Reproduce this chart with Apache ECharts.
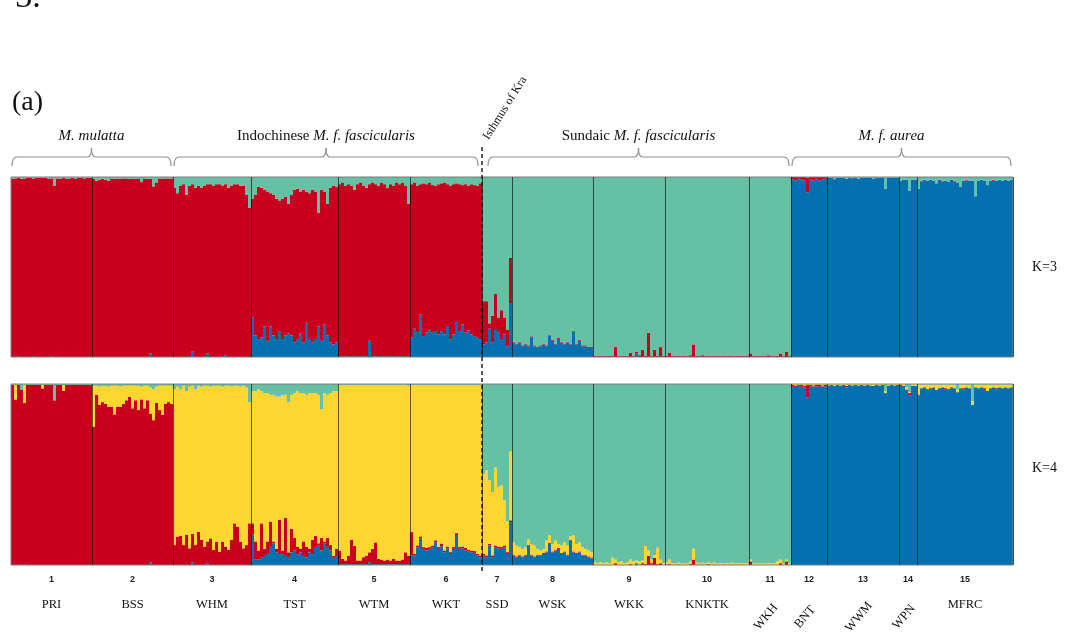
<!DOCTYPE html>
<html>
<head>
<meta charset="utf-8">
<script src="https://cdn.jsdelivr.net/npm/echarts@6.0.0/dist/echarts.min.js"></script>
<style>
  html, body { margin: 0; padding: 0; background: #fff; }
  #main { width: 1068px; height: 634px; }
</style>
</head>
<body>
<div id="main"></div>
<script>
// populations, left to right
const popIds = ['1', '2', '3', '4', '5', '6', '7', '8', '9', '10', '11', '12', '13', '14', '15']
const popNames = ['PRI', 'BSS', 'WHM', 'TST', 'WTM', 'WKT', 'SSD', 'WSK', 'WKK', 'KNKTK', 'WKH', 'BNT', 'WWM', 'WPN', 'MFRC']
const popSizes = [27, 27, 26, 29, 24, 24, 10, 27, 24, 28, 14, 12, 24, 6, 32]
const slantedNames = ['WKH', 'BNT', 'WWM', 'WPN']

// species groups (first pop index, last pop index)
const groupLabels = ['M. mulatta', 'Indochinese M. f. fascicularis', 'Sundaic M. f. fascicularis', 'M. f. aurea']
const groupFrom = [0, 2, 6, 11]
const groupTo = [1, 5, 10, 14]

// membership coefficients per individual; null = the rest of the bar
// K=3, stacked bottom to top: blue, red, green
const k3Blue = [
  0, 0, 0.005, 0, 0, 0, 0, 0.005, 0, 0, 0, 0, 0, 0.005, 0, 0, 0, 0, 0, 0, 0, 0, 0, 0, 0, 0, 0, // PRI
  0, 0, 0, 0, 0, 0, 0, 0, 0, 0, 0, 0, 0, 0, 0, 0, 0, 0, 0, 0.02, 0, 0, 0, 0, 0, 0, 0, // BSS
  0, 0, 0, 0, 0, 0.005, 0.03, 0, 0, 0, 0.005, 0.02, 0, 0, 0, 0, 0.005, 0.01, 0, 0, 0, 0, 0, 0, 0, 0, // WHM
  0.22, 0.12, 0.1, 0.11, 0.17, 0.09, 0.17, 0.12, 0.1, 0.14, 0.1, 0.12, 0.13, 0.12, 0.08, 0.1, 0.13, 0.08, 0.19, 0.1, 0.08, 0.1, 0.17, 0.09, 0.18, 0.12, 0.08, 0.07, 0.08, // TST
  0.005, 0.005, 0.003, 0.005, 0.005, 0.003, 0.005, 0.005, 0.003, 0.005, 0.09, 0.005, 0.003, 0.005, 0.005, 0.003, 0.005, 0.005, 0.005, 0.003, 0.005, 0.005, 0.005, 0.005, // WTM
  0.107, 0.157, 0.139, 0.237, 0.116, 0.135, 0.148, 0.135, 0.144, 0.126, 0.144, 0.126, 0.172, 0.098, 0.126, 0.2, 0.144, 0.181, 0.135, 0.148, 0.126, 0.116, 0.107, 0.098, // WKT
  0.07, 0.08, 0.157, 0.08, 0.15, 0.135, 0.1, 0.125, 0.06, 0.3, // SSD
  0.08, 0.07, 0.08, 0.06, 0.07, 0.06, 0.11, 0.06, 0.05, 0.06, 0.07, 0.06, 0.12, 0.09, 0.07, 0.1, 0.08, 0.07, 0.08, 0.07, 0.14, 0.07, 0.09, 0.06, 0.06, 0.05, 0.05, // WSK
  0, 0, 0, 0, 0, 0, 0, 0, 0, 0, 0, 0, 0, 0, 0.02, 0, 0, 0, 0, 0, 0, 0, 0, 0, // WKK
  0, 0, 0, 0, 0, 0, 0, 0, 0, 0, 0, 0, 0, 0, 0, 0, 0, 0, 0, 0, 0, 0, 0, 0, 0, 0, 0, 0, // KNKTK
  0, 0, 0, 0, 0, 0, 0, 0, 0, 0, 0, 0, 0, 0, // WKH
  null, null, null, null, null, null, null, null, null, null, null, null, // BNT
  null, null, null, null, null, null, null, null, null, null, null, null, null, null, null, null, null, null, null, null, null, null, null, null, // WWM
  null, null, null, null, null, null, // WPN
  null, null, null, null, null, null, null, null, null, null, null, null, null, null, null, null, null, null, null, null, null, null, null, null, null, null, null, null, null, null, null, null // MFRC
]
const k3Red = [
  null, null, null, null, null, null, null, null, null, null, null, null, null, null, null, null, null, null, null, null, null, null, null, null, null, null, null, // PRI
  null, null, null, null, null, null, null, null, null, null, null, null, null, null, null, null, null, null, null, null, null, null, null, null, null, null, null, // BSS
  null, null, null, null, null, null, null, null, null, null, null, null, null, null, null, null, null, null, null, null, null, null, null, null, null, null, // WHM
  null, null, null, null, null, null, null, null, null, null, null, null, null, null, null, null, null, null, null, null, null, null, null, null, null, null, null, null, null, // TST
  null, null, null, null, null, null, null, null, null, null, null, null, null, null, null, null, null, null, null, null, null, null, null, null, // WTM
  null, null, null, null, null, null, null, null, null, null, null, null, null, null, null, null, null, null, null, null, null, null, null, null, // WKT
  0.24, 0.23, 0.03, 0.15, 0.2, 0.085, 0.16, 0.095, 0.09, 0.25, // SSD
  0.005, 0.005, 0.005, 0.005, 0.005, 0.005, 0.005, 0.005, 0.005, 0.005, 0.005, 0.005, 0.005, 0.005, 0.005, 0.005, 0.005, 0.005, 0.005, 0.005, 0.005, 0.005, 0.005, 0.005, 0.005, 0.005, 0.005, // WSK
  0.005, 0.005, 0.008, 0.005, 0.005, 0.008, 0.005, 0.055, 0.005, 0.005, 0.008, 0.005, 0.024, 0.005, 0.008, 0.01, 0.04, 0.008, 0.135, 0.005, 0.04, 0.008, 0.055, 0.005, // WKK
  0.008, 0.025, 0.008, 0.005, 0.008, 0.005, 0.008, 0.005, 0.01, 0.07, 0.008, 0.005, 0.01, 0.005, 0.008, 0.005, 0.008, 0.005, 0.005, 0.008, 0.005, 0.008, 0.005, 0.005, 0.008, 0.005, 0.005, 0.008, // KNKTK
  0.02, 0.005, 0.005, 0.008, 0.005, 0.005, 0.01, 0.005, 0.005, 0.008, 0.02, 0.005, 0.03, 0.005, // WKH
  0.015, 0.02, 0.01, 0.015, 0.02, 0.08, 0.015, 0.02, 0.01, 0.02, 0.015, 0.01, // BNT
  0, 0, 0.003, 0, 0, 0, 0, 0, 0.003, 0, 0, 0, 0, 0, 0, 0, 0.003, 0, 0, 0, 0, 0, 0, 0, // WWM
  0.005, 0, 0, 0, 0, 0, // WPN
  0, 0.005, 0, 0, 0, 0, 0, 0, 0.005, 0, 0, 0, 0.005, 0, 0, 0, 0.005, 0, 0, 0, 0, 0, 0, 0, 0, 0.005, 0, 0, 0, 0, 0, 0 // MFRC
]
const k3Green = [
  0.01, 0.008, 0.005, 0.01, 0.008, 0.005, 0.005, 0.008, 0.005, 0.005, 0.005, 0.005, 0.01, 0.008, 0.05, 0.008, 0.01, 0.005, 0.01, 0.008, 0.005, 0.01, 0.005, 0.005, 0.008, 0.005, 0.005, // PRI
  0.01, 0.02, 0.015, 0.01, 0.015, 0.02, 0.008, 0.01, 0.008, 0.01, 0.008, 0.008, 0.01, 0.008, 0.01, 0.008, 0.028, 0.008, 0.01, 0.01, 0.052, 0.03, 0.008, 0.01, 0.008, 0.008, 0.008, // BSS
  0.06, 0.09, 0.05, 0.04, 0.1, 0.05, 0.04, 0.06, 0.05, 0.06, 0.05, 0.04, 0.04, 0.05, 0.04, 0.04, 0.05, 0.04, 0.06, 0.05, 0.04, 0.04, 0.05, 0.05, 0.1, 0.17, // WHM
  0.12, 0.1, 0.055, 0.06, 0.07, 0.08, 0.09, 0.1, 0.12, 0.13, 0.12, 0.11, 0.15, 0.1, 0.07, 0.065, 0.08, 0.07, 0.08, 0.09, 0.07, 0.08, 0.2, 0.07, 0.08, 0.15, 0.06, 0.05, 0.055, // TST
  0.04, 0.03, 0.05, 0.04, 0.05, 0.07, 0.04, 0.03, 0.05, 0.06, 0.04, 0.03, 0.04, 0.05, 0.03, 0.04, 0.06, 0.04, 0.05, 0.03, 0.04, 0.03, 0.05, 0.15, // WTM
  0.04, 0.03, 0.05, 0.04, 0.035, 0.04, 0.03, 0.045, 0.05, 0.04, 0.035, 0.03, 0.04, 0.05, 0.04, 0.035, 0.04, 0.045, 0.04, 0.05, 0.04, 0.045, 0.05, 0.035, // WKT
  null, null, null, null, null, null, null, null, null, null, // SSD
  null, null, null, null, null, null, null, null, null, null, null, null, null, null, null, null, null, null, null, null, null, null, null, null, null, null, null, // WSK
  null, null, null, null, null, null, null, null, null, null, null, null, null, null, null, null, null, null, null, null, null, null, null, null, // WKK
  null, null, null, null, null, null, null, null, null, null, null, null, null, null, null, null, null, null, null, null, null, null, null, null, null, null, null, null, // KNKTK
  null, null, null, null, null, null, null, null, null, null, null, null, null, null, // WKH
  0, 0, 0, 0, 0, 0.005, 0, 0, 0, 0, 0, 0, // BNT
  0.005, 0.003, 0.01, 0.003, 0.005, 0.003, 0.01, 0.003, 0.005, 0.003, 0.01, 0.003, 0.005, 0.003, 0.005, 0.008, 0.003, 0.005, 0.003, 0.065, 0.005, 0.003, 0.005, 0.003, // WWM
  0.02, 0.015, 0.015, 0.075, 0.015, 0.015, // WPN
  0.065, 0.02, 0.015, 0.02, 0.015, 0.02, 0.035, 0.015, 0.02, 0.02, 0.025, 0.015, 0.02, 0.03, 0.055, 0.02, 0.015, 0.02, 0.02, 0.107, 0.02, 0.015, 0.02, 0.045, 0.02, 0.015, 0.02, 0.015, 0.02, 0.015, 0.02, 0.015 // MFRC
]

// K=4, stacked bottom to top: blue, red, yellow, green
const k4Blue = [
  0, 0, 0, 0, 0.005, 0, 0, 0, 0, 0, 0, 0, 0, 0, 0, 0, 0, 0, 0, 0, 0, 0, 0, 0, 0, 0, 0, // PRI
  0, 0, 0, 0, 0, 0, 0, 0, 0, 0, 0, 0, 0, 0, 0, 0, 0, 0, 0, 0.015, 0, 0, 0, 0, 0, 0, 0, // BSS
  0, 0, 0, 0, 0, 0, 0.015, 0, 0, 0, 0, 0.01, 0, 0, 0, 0, 0, 0, 0, 0, 0, 0, 0, 0, 0, 0, // WHM
  0.17, 0.03, 0.03, 0.04, 0.05, 0.06, 0.1, 0.12, 0.07, 0.06, 0.06, 0.05, 0.04, 0.07, 0.08, 0.06, 0.07, 0.05, 0.04, 0.07, 0.06, 0.1, 0.11, 0.08, 0.12, 0.1, 0.08, 0.04, 0.05, // TST
  0.005, 0.005, 0.005, 0.005, 0.005, 0.005, 0.005, 0.005, 0.005, 0.005, 0.015, 0.005, 0.005, 0.005, 0.005, 0.005, 0.005, 0.005, 0.005, 0.005, 0.005, 0.005, 0.005, 0.005, // WTM
  0.052, 0.052, 0.098, 0.148, 0.089, 0.08, 0.089, 0.098, 0.126, 0.089, 0.104, 0.07, 0.092, 0.061, 0.089, 0.166, 0.089, 0.092, 0.08, 0.074, 0.07, 0.067, 0.052, 0.043, // WKT
  0.052, 0.043, 0.107, 0.043, 0.098, 0.092, 0.089, 0.098, 0.061, 0.237, // SSD
  0.052, 0.043, 0.052, 0.043, 0.052, 0.107, 0.052, 0.043, 0.052, 0.052, 0.061, 0.07, 0.116, 0.07, 0.08, 0.089, 0.061, 0.07, 0.052, 0.135, 0.07, 0.061, 0.07, 0.052, 0.052, 0.043, 0.037, // WSK
  0, 0, 0, 0, 0, 0, 0, 0, 0, 0, 0, 0, 0, 0, 0.01, 0, 0, 0, 0, 0, 0, 0, 0, 0, // WKK
  0, 0, 0, 0, 0, 0, 0, 0, 0, 0, 0, 0, 0, 0, 0, 0, 0, 0, 0, 0, 0, 0, 0, 0, 0, 0, 0, 0, // KNKTK
  0, 0, 0, 0, 0, 0, 0, 0, 0, 0, 0, 0, 0, 0, // WKH
  null, null, null, null, null, null, null, null, null, null, null, null, // BNT
  null, null, null, null, null, null, null, null, null, null, null, null, null, null, null, null, null, null, null, null, null, null, null, null, // WWM
  null, null, null, null, null, null, // WPN
  null, null, null, null, null, null, null, null, null, null, null, null, null, null, null, null, null, null, null, null, null, null, null, null, null, null, null, null, null, null, null, null // MFRC
]
const k4Red = [
  null, null, null, null, null, null, null, null, null, null, null, null, null, null, null, null, null, null, null, null, null, null, null, null, null, null, null, // PRI
  null, null, null, null, null, null, null, null, null, null, null, null, null, null, null, null, null, null, null, null, null, null, null, null, null, null, null, // BSS
  0.11, 0.157, 0.162, 0.11, 0.166, 0.092, 0.157, 0.11, 0.184, 0.138, 0.101, 0.12, 0.147, 0.083, 0.129, 0.074, 0.129, 0.101, 0.083, 0.138, 0.23, 0.212, 0.129, 0.092, 0.11, 0.23, // WHM
  0.06, 0.1, 0.05, 0.19, 0.04, 0.07, 0.14, 0.01, 0.02, 0.19, 0.02, 0.21, 0.03, 0.13, 0.07, 0.04, 0.02, 0.08, 0.06, 0.02, 0.08, 0.06, 0.01, 0.07, 0.01, 0.05, 0.03, 0.01, 0.04, // TST
  0.075, 0.028, 0.02, 0.047, 0.135, 0.1, 0.02, 0.02, 0.038, 0.047, 0.055, 0.084, 0.12, 0.028, 0.025, 0.02, 0.025, 0.02, 0.028, 0.02, 0.018, 0.025, 0.065, 0.047, // WTM
  0.13, 0.01, 0.01, 0.01, 0.01, 0.015, 0.01, 0.01, 0.01, 0.01, 0.015, 0.01, 0.01, 0.01, 0.01, 0.01, 0.01, 0.01, 0.015, 0.01, 0.01, 0.01, 0.01, 0.01, // WKT
  0.01, 0.01, 0.01, 0.01, 0.01, 0.01, 0.01, 0.01, 0.01, 0.01, // SSD
  0.005, 0.005, 0.005, 0.005, 0.005, 0.005, 0.005, 0.005, 0.005, 0.005, 0.005, 0.005, 0.005, 0.005, 0.005, 0.005, 0.005, 0.005, 0.005, 0.005, 0.005, 0.005, 0.005, 0.005, 0.005, 0.005, 0.005, // WSK
  0, 0, 0, 0, 0, 0, 0, 0.01, 0, 0, 0, 0, 0.005, 0, 0, 0, 0.01, 0.005, 0.05, 0.01, 0.04, 0.005, 0.01, 0, // WKK
  0.003, 0.005, 0, 0, 0.003, 0, 0, 0, 0.005, 0.03, 0.003, 0, 0.003, 0, 0.005, 0, 0.003, 0, 0, 0.003, 0, 0, 0.003, 0, 0, 0.003, 0, 0, // KNKTK
  0.02, 0, 0, 0, 0, 0, 0, 0, 0, 0, 0.01, 0, 0.02, 0, // WKH
  0.01, 0.008, 0.005, 0.01, 0.008, 0.07, 0.01, 0.005, 0.008, 0.01, 0.005, 0.008, // BNT
  0, 0, 0, 0, 0, 0, 0.008, 0, 0, 0, 0, 0, 0, 0, 0, 0, 0, 0, 0, 0, 0, 0, 0, 0, // WWM
  0.01, 0, 0, 0.012, 0, 0, // WPN
  0.005, 0, 0, 0, 0.005, 0, 0, 0, 0, 0.005, 0, 0.005, 0, 0, 0, 0.005, 0, 0, 0, 0, 0, 0, 0.005, 0, 0, 0, 0.005, 0, 0, 0, 0, 0 // MFRC
]
const k4Yellow = [
  0, 0.08, 0, 0, 0.1, 0, 0, 0, 0, 0, 0.02, 0, 0, 0, 0, 0, 0, 0.033, 0, 0, 0, 0, 0, 0, 0, 0, 0, // PRI
  0.226, 0.05, 0.1, 0.09, 0.1, 0.11, 0.115, 0.158, 0.115, 0.11, 0.1, 0.08, 0.06, 0.124, 0.08, 0.134, 0.07, 0.124, 0.08, 0.143, 0.17, 0.09, 0.134, 0.16, 0.1, 0.09, 0.1, // BSS
  null, null, null, null, null, null, null, null, null, null, null, null, null, null, null, null, null, null, null, null, null, null, null, null, null, null, // WHM
  null, null, null, null, null, null, null, null, null, null, null, null, null, null, null, null, null, null, null, null, null, null, null, null, null, null, null, null, null, // TST
  null, null, null, null, null, null, null, null, null, null, null, null, null, null, null, null, null, null, null, null, null, null, null, null, // WTM
  null, null, null, null, null, null, null, null, null, null, null, null, null, null, null, null, null, null, null, null, null, null, null, null, // WKT
  0.44, 0.47, 0.35, 0.35, 0.43, 0.33, 0.34, 0.25, 0.17, 0.38, // SSD
  0.069, 0.059, 0.041, 0.041, 0.041, 0.028, 0.059, 0.059, 0.032, 0.023, 0.023, 0.06, 0.042, 0.041, 0.05, 0.022, 0.041, 0.051, 0.05, 0.02, 0.088, 0.05, 0.051, 0.041, 0.032, 0.032, 0.028, // WSK
  0.015, 0.01, 0.015, 0.01, 0.015, 0.01, 0.04, 0.02, 0.015, 0.02, 0.01, 0.015, 0.025, 0.02, 0.015, 0.02, 0.015, 0.1, 0.03, 0.02, 0.015, 0.09, 0.02, 0.01, // WKK
  0.01, 0.025, 0.01, 0.008, 0.01, 0.008, 0.01, 0.008, 0.015, 0.06, 0.01, 0.008, 0.01, 0.008, 0.01, 0.008, 0.01, 0.008, 0.01, 0.008, 0.01, 0.008, 0.01, 0.008, 0.01, 0.008, 0.01, 0.008, // KNKTK
  0.01, 0.008, 0.008, 0.01, 0.008, 0.008, 0.01, 0.008, 0.01, 0.02, 0.02, 0.008, 0.01, 0.008, // WKH
  0.005, 0.008, 0.005, 0.005, 0.01, 0.005, 0.005, 0.008, 0.005, 0.005, 0.008, 0.005, // BNT
  0.008, 0.005, 0.01, 0.005, 0.008, 0.005, 0.01, 0.005, 0.008, 0.005, 0.008, 0.005, 0.008, 0.005, 0.008, 0.01, 0.005, 0.008, 0.005, 0.01, 0.008, 0.005, 0.008, 0.005, // WWM
  0.005, 0.01, 0.01, 0.005, 0.01, 0.01, // WPN
  0.055, 0.02, 0.015, 0.025, 0.02, 0.015, 0.03, 0.02, 0.015, 0.02, 0.025, 0.015, 0.02, 0.015, 0.02, 0.02, 0.015, 0.02, 0.02, 0.015, 0.02, 0.015, 0.02, 0.035, 0.02, 0.015, 0.02, 0.015, 0.02, 0.015, 0.02, 0.015 // MFRC
]
const k4Green = [
  0.005, 0.005, 0.005, 0.03, 0.005, 0.005, 0.005, 0.005, 0.005, 0.005, 0.005, 0.005, 0.005, 0.005, 0.09, 0.005, 0.005, 0.005, 0.005, 0.005, 0.005, 0.005, 0.005, 0.005, 0.005, 0.005, 0.005, // PRI
  0.01, 0.01, 0.015, 0.01, 0.01, 0.015, 0.01, 0.01, 0.01, 0.015, 0.01, 0.01, 0.01, 0.01, 0.01, 0.01, 0.015, 0.01, 0.01, 0.02, 0.03, 0.015, 0.01, 0.01, 0.01, 0.01, 0.01, // BSS
  0.03, 0.015, 0.03, 0.01, 0.04, 0.015, 0.01, 0.03, 0.01, 0.015, 0.01, 0.01, 0.015, 0.01, 0.01, 0.01, 0.015, 0.01, 0.01, 0.015, 0.01, 0.01, 0.015, 0.01, 0.02, 0.1, // WHM
  0.04, 0.04, 0.03, 0.04, 0.05, 0.05, 0.06, 0.06, 0.07, 0.07, 0.06, 0.06, 0.1, 0.06, 0.05, 0.04, 0.05, 0.05, 0.06, 0.05, 0.05, 0.05, 0.06, 0.14, 0.05, 0.06, 0.05, 0.04, 0.04, // TST
  0.005, 0.005, 0.005, 0.005, 0.005, 0.005, 0.005, 0.005, 0.005, 0.005, 0.005, 0.005, 0.005, 0.005, 0.005, 0.005, 0.005, 0.005, 0.005, 0.005, 0.005, 0.005, 0.005, 0.01, // WTM
  0.005, 0.005, 0.005, 0.005, 0.005, 0.005, 0.005, 0.005, 0.005, 0.005, 0.005, 0.005, 0.005, 0.005, 0.005, 0.005, 0.005, 0.005, 0.005, 0.005, 0.005, 0.005, 0.005, 0.005, // WKT
  null, null, null, null, null, null, null, null, null, null, // SSD
  null, null, null, null, null, null, null, null, null, null, null, null, null, null, null, null, null, null, null, null, null, null, null, null, null, null, null, // WSK
  null, null, null, null, null, null, null, null, null, null, null, null, null, null, null, null, null, null, null, null, null, null, null, null, // WKK
  null, null, null, null, null, null, null, null, null, null, null, null, null, null, null, null, null, null, null, null, null, null, null, null, null, null, null, null, // KNKTK
  null, null, null, null, null, null, null, null, null, null, null, null, null, null, // WKH
  0, 0, 0, 0, 0, 0, 0, 0, 0, 0, 0, 0, // BNT
  0, 0, 0, 0, 0, 0, 0, 0, 0, 0, 0, 0, 0, 0, 0, 0, 0, 0, 0, 0.04, 0, 0, 0, 0, // WWM
  0, 0, 0.02, 0.045, 0, 0, // WPN
  0.003, 0.003, 0.003, 0.003, 0.003, 0.003, 0.003, 0.003, 0.003, 0.003, 0.003, 0.003, 0.003, 0.03, 0.003, 0.003, 0.003, 0.003, 0.095, 0.003, 0.003, 0.003, 0.003, 0.003, 0.003, 0.003, 0.003, 0.003, 0.003, 0.003, 0.003, 0.003 // MFRC
]

const RED = '#c8001e'
const GREEN = '#66c1a4'
const BLUE = '#0570b0'
const YELLOW = '#fdd631'
const SERIF = 'Liberation Serif'

// the null entry of each individual takes what is left of the bar
function fillRest (parts) {
  const out = parts.map(p => p.slice())
  for (let i = 0; i < out[0].length; i++) {
    let known = 0
    let gap = -1
    out.forEach((p, k) => {
      if (p[i] === null) gap = k
      else known += p[i]
    })
    if (gap >= 0) out[gap][i] = Math.max(0, 1 - known)
  }
  return out
}

const individuals = []
const popStarts = []
popSizes.forEach((n, p) => {
  popStarts.push(individuals.length)
  for (let j = 0; j < n; j++) individuals.push(popIds[p] + '-' + (j + 1))
})
const total = individuals.length

const k3 = fillRest([k3Blue, k3Red, k3Green])
const k4 = fillRest([k4Blue, k4Red, k4Yellow, k4Green])

function barSeries (name, data, color, stack, idx) {
  return {
    name: name,
    type: 'bar',
    stack: stack,
    xAxisIndex: idx,
    yAxisIndex: idx,
    data: data,
    barCategoryGap: '0%',
    barWidth: '100%',
    silent: true,
    itemStyle: { color: color },
    z: 2
  }
}

function xAxisFor (grid) {
  return {
    type: 'category',
    gridIndex: grid,
    data: individuals,
    axisLine: { show: false },
    axisTick: { show: false },
    axisLabel: { show: false },
    z: 10,
    splitLine: {
      show: true,
      interval: (i) => i > 0 && popStarts.includes(i),
      lineStyle: { color: 'rgba(0,0,0,0.6)', width: 1 }
    }
  }
}

function yAxisFor (grid) {
  return {
    type: 'value',
    gridIndex: grid,
    min: 0,
    max: 1,
    axisLine: { show: false },
    axisTick: { show: false },
    axisLabel: { show: false },
    splitLine: { show: false }
  }
}

const chart = echarts.init(document.getElementById('main'), null, { renderer: 'canvas' })
chart.setOption({
  animation: false,
  backgroundColor: '#fff',
  grid: [
    { left: 11, top: 177, width: 1002, height: 180, show: true, z: 10, backgroundColor: 'transparent', borderColor: '#7d7d7d', borderWidth: 1 },
    { left: 11, top: 384, width: 1002, height: 181, show: true, z: 10, backgroundColor: 'transparent', borderColor: '#7d7d7d', borderWidth: 1 }
  ],
  xAxis: [xAxisFor(0), xAxisFor(1)],
  yAxis: [yAxisFor(0), yAxisFor(1)],
  series: [
    barSeries('K3 blue', k3[0], BLUE, 'k3', 0),
    barSeries('K3 red', k3[1], RED, 'k3', 0),
    barSeries('K3 green', k3[2], GREEN, 'k3', 0),
    barSeries('K4 blue', k4[0], BLUE, 'k4', 1),
    barSeries('K4 red', k4[1], RED, 'k4', 1),
    barSeries('K4 yellow', k4[2], YELLOW, 'k4', 1),
    barSeries('K4 green', k4[3], GREEN, 'k4', 1)
  ]
})

// population boundaries in pixels, read back from the category axis
const c0 = chart.convertToPixel({ xAxisIndex: 0 }, 0)
const band = chart.convertToPixel({ xAxisIndex: 0 }, 1) - c0
function edge (i) {
  return c0 + (i - 0.5) * band
}
const bounds = popStarts.concat([total]).map(edge)

const graphics = []
const braceStyle = { fill: null, stroke: '#8f8f8f', lineWidth: 1.2 }

// braces over the species groups
groupLabels.forEach((label, g) => {
  let x0 = bounds[groupFrom[g]] + 1
  let x1 = bounds[groupTo[g] + 1] - 2
  if (g === 1) x1 = bounds[groupTo[g] + 1] - 4
  if (g === 2) x0 = bounds[groupFrom[g]] + 6
  const xc = (x0 + x1) / 2
  graphics.push(
    { type: 'bezierCurve', shape: { x1: x0, y1: 166, cpx1: x0, cpy1: 157, x2: x0 + 5, y2: 157 }, style: braceStyle },
    { type: 'line', shape: { x1: x0 + 5, y1: 157, x2: xc - 4, y2: 157 }, style: braceStyle },
    { type: 'bezierCurve', shape: { x1: xc - 4, y1: 157, cpx1: xc, cpy1: 157, x2: xc, y2: 148 }, style: braceStyle },
    { type: 'bezierCurve', shape: { x1: xc, y1: 148, cpx1: xc, cpy1: 157, x2: xc + 4, y2: 157 }, style: braceStyle },
    { type: 'line', shape: { x1: xc + 4, y1: 157, x2: x1 - 5, y2: 157 }, style: braceStyle },
    { type: 'bezierCurve', shape: { x1: x1 - 5, y1: 157, cpx1: x1, cpy1: 157, x2: x1, y2: 166 }, style: braceStyle }
  )
  const words = label.split(' M. ')
  const text = words.length > 1 && words[0] !== ''
    ? '{n|' + words[0] + ' }{i|M. ' + words[1] + '}'
    : '{i|' + label + '}'
  graphics.push({
    type: 'text',
    x: g === 3 ? xc - 10 : xc,
    y: 136,
    style: {
      text: text,
      align: 'center',
      verticalAlign: 'middle',
      fill: '#111',
      rich: {
        n: { fontFamily: SERIF, fontSize: 15, fill: '#111' },
        i: { fontFamily: SERIF, fontSize: 15, fontStyle: 'italic', fill: '#111' }
      }
    }
  })
})

// population numbers and names
popNames.forEach((name, p) => {
  const xc = (bounds[p] + bounds[p + 1]) / 2
  graphics.push({
    type: 'text',
    x: xc,
    y: 580,
    style: { text: popIds[p], fontFamily: 'Liberation Sans', fontWeight: 'bold', fontSize: 9, fill: '#222', align: 'center', verticalAlign: 'middle' }
  })
  const slanted = slantedNames.includes(name)
  graphics.push({
    type: 'text',
    x: slanted ? xc - 4 : xc,
    y: slanted ? 617 : 605,
    rotation: slanted ? 50 * Math.PI / 180 : 0,
    style: { text: name, fontFamily: SERIF, fontSize: 12.5, fill: '#111', align: 'center', verticalAlign: 'middle' }
  })
})

// Isthmus of Kra divider
const kra = bounds[6]
graphics.push({
  type: 'line',
  shape: { x1: kra, y1: 147, x2: kra, y2: 572 },
  style: { stroke: '#111', lineWidth: 1.4, lineDash: [4, 3] },
  z: 20
})
graphics.push({
  type: 'text',
  x: kra + 23,
  y: 108,
  rotation: 58 * Math.PI / 180,
  style: { text: 'Isthmus of Kra', fontFamily: SERIF, fontSize: 12, fill: '#111', align: 'center', verticalAlign: 'middle' }
})

// panel labels
graphics.push({
  type: 'text', x: 1032, y: 267,
  style: { text: 'K=3', fontFamily: SERIF, fontSize: 14, fill: '#111', align: 'left', verticalAlign: 'middle' }
})
graphics.push({
  type: 'text', x: 1032, y: 468,
  style: { text: 'K=4', fontFamily: SERIF, fontSize: 14, fill: '#111', align: 'left', verticalAlign: 'middle' }
})
graphics.push({
  type: 'text', x: 12, y: 103,
  style: { text: '(a)', fontFamily: SERIF, fontSize: 28, fill: '#111', align: 'left', verticalAlign: 'middle' }
})
// tail of the previous line of the page, cut off at the top
graphics.push({
  type: 'text', x: -4, y: -2,
  style: { text: '=3.', fontFamily: SERIF, fontSize: 34, fill: '#111', align: 'left', verticalAlign: 'middle' }
})

chart.setOption({ graphic: graphics })
</script>
</body>
</html>
